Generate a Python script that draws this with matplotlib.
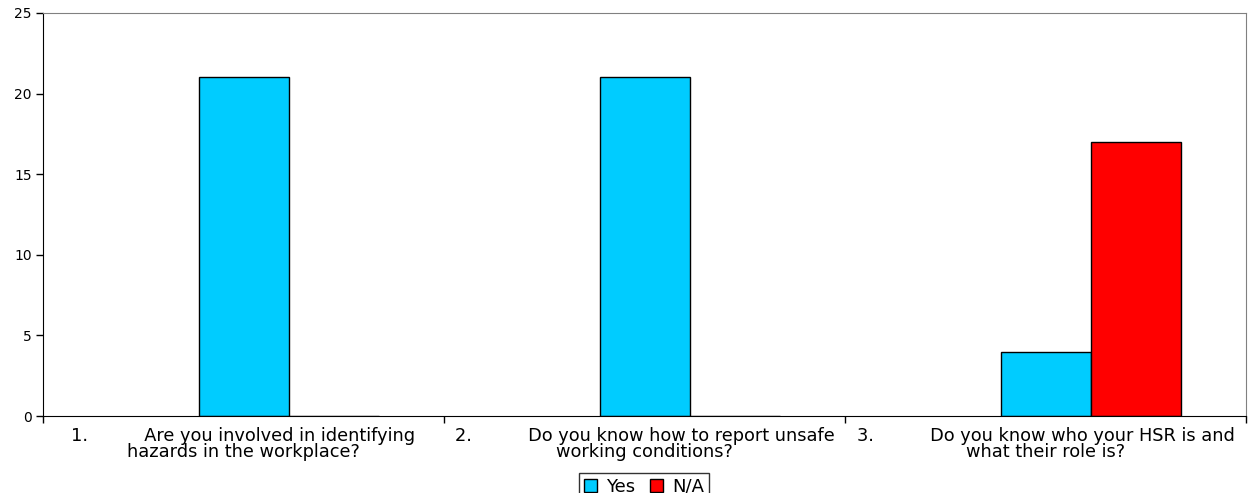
import numpy as np
import matplotlib.pyplot as plt
from matplotlib.patches import Patch

plt.rcParams['font.family'] = ['DejaVu Sans']

questions = [
    "1.          Are you involved in identifying\nhazards in the workplace?",
    "2.          Do you know how to report unsafe\nworking conditions?",
    "3.          Do you know who your HSR is and\nwhat their role is?",
]
yes_counts = [21, 21, 4]
na_counts = [0, 0, 17]
yticks = [0, 5, 10, 15, 20, 25]

fig = plt.figure(figsize=(12.57, 4.93), dpi=100)
ax = fig.add_axes([43/1257, 1 - 416/493, (1246 - 43)/1257, (416 - 13)/493])

x = np.arange(len(questions))
w = 90 / 401
ax.bar(x, yes_counts, w, color="#00CCFF", edgecolor="black", linewidth=1, label="Yes")
ax.bar(x + w, na_counts, w, color="#FF0000", edgecolor="black", linewidth=1, label="N/A")

ax.set_xlim(-0.5, len(questions) - 0.5)
ax.set_ylim(0, 25)
ax.set_yticks(yticks)
ax.tick_params(axis='y', labelsize=10, length=5, width=1, pad=3)

# category boundaries get the tick marks, labels sit in the middle
ax.set_xticks(np.arange(len(questions) + 1) - 0.5)
ax.set_xticklabels([])
ax.set_xticks(x, minor=True)
ax.set_xticklabels(questions, minor=True, fontsize=12.8, linespacing=0.88)
ax.tick_params(axis='x', which='major', length=5, width=1)
ax.tick_params(axis='x', which='minor', length=0, pad=8)

for s in ['top', 'right']:
    ax.spines[s].set_color("#808080")
for s in ['left', 'bottom']:
    ax.spines[s].set_color("black")

handles = [Patch(facecolor="#00CCFF", edgecolor="black"),
           Patch(facecolor="#FF0000", edgecolor="black")]
leg = fig.legend(handles, ["Yes", "N/A"], loc="upper center",
                 bbox_to_anchor=(644/1257, 1 - 473/493), ncol=2, fontsize=13,
                 frameon=True, fancybox=False, edgecolor="black",
                 handlelength=0.75, handleheight=0.75, handletextpad=0.5,
                 columnspacing=0.8, borderpad=0.25, borderaxespad=0)
leg.get_frame().set_linewidth(1)

fig.savefig("out.png", dpi=100)
